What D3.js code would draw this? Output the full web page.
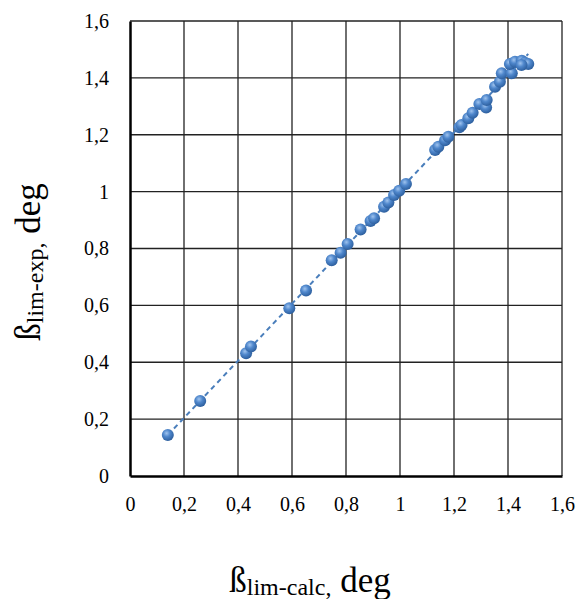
<!DOCTYPE html>
<html>
<head>
<meta charset="utf-8">
<script src="https://cdn.jsdelivr.net/npm/d3@7.9.0/dist/d3.min.js"></script>
<style>
  body { margin: 0; background: #fff; }
  svg text { font-family: "Liberation Serif", "Times New Roman", serif; fill: #000; }
</style>
</head>
<body>
<svg id="chart" width="579" height="599"></svg>
<script>
const calcVals = [0.14, 0.26, 0.43, 0.448, 0.59, 0.652, 0.747, 0.78, 0.806, 0.854, 0.891, 0.904,
  0.941, 0.957, 0.978, 0.997, 1.022, 1.13, 1.142, 1.167, 1.179, 1.22, 1.228, 1.253, 1.269,
  1.294, 1.319, 1.321, 1.352, 1.37, 1.377, 1.414, 1.407, 1.426, 1.451, 1.463, 1.475, 1.45];
const expVals = [0.144, 0.264, 0.432, 0.455, 0.59, 0.652, 0.759, 0.785, 0.816, 0.867, 0.897, 0.906,
  0.947, 0.962, 0.988, 1.003, 1.027, 1.146, 1.158, 1.181, 1.193, 1.226, 1.234, 1.258, 1.277,
  1.308, 1.296, 1.322, 1.369, 1.386, 1.416, 1.416, 1.449, 1.457, 1.46, 1.453, 1.449, 1.445];
const tickVals = [0, 0.2, 0.4, 0.6, 0.8, 1, 1.2, 1.4, 1.6];

const svg = d3.select('#chart');
const pLeft = 130, pRight = 562, pTop = 21, pBottom = 476;

const x = d3.scaleLinear().domain([0, 1.6]).range([pLeft, pRight]);
const y = d3.scaleLinear().domain([0, 1.6]).range([pBottom, pTop]);
const fmt = d => String(d).replace('.', ',');

// gradient for the shiny markers
const defs = svg.append('defs');
const grad = defs.append('radialGradient').attr('id', 'ball')
  .attr('cx', '40%').attr('cy', '35%').attr('r', '65%');
grad.append('stop').attr('offset', '0%').attr('stop-color', '#9fc3ee');
grad.append('stop').attr('offset', '45%').attr('stop-color', '#4f87cc');
grad.append('stop').attr('offset', '100%').attr('stop-color', '#2d5f9e');

// grid
svg.append('g').selectAll('line').data(tickVals.slice(1)).join('line')
  .attr('x1', d => x(d)).attr('x2', d => x(d)).attr('y1', pTop).attr('y2', pBottom)
  .attr('stroke', '#222').attr('stroke-width', 1.3);
svg.append('g').selectAll('line').data(tickVals.slice(1)).join('line')
  .attr('y1', d => y(d)).attr('y2', d => y(d)).attr('x1', pLeft).attr('x2', pRight)
  .attr('stroke', '#222').attr('stroke-width', 1.3);

// axes
const xAxis = svg.append('g').attr('transform', `translate(0,${pBottom})`)
  .call(d3.axisBottom(x).tickValues(tickVals).tickFormat(fmt).tickSize(0).tickPadding(21));
const yAxis = svg.append('g').attr('transform', `translate(${pLeft},0)`)
  .call(d3.axisLeft(y).tickValues(tickVals).tickFormat(fmt).tickSize(0).tickPadding(21));
[xAxis, yAxis].forEach(a => {
  a.attr('font-family', null).attr('font-size', null);
  a.select('.domain').attr('stroke', '#000').attr('stroke-width', 2.5);
  a.selectAll('text')
    .style('font-family', '"Liberation Serif", serif')
    .style('font-size', '20px');
});

// trend line (least squares)
const mx = d3.mean(calcVals), my = d3.mean(expVals);
let sxy = 0, sxx = 0;
calcVals.forEach((v, i) => { sxy += (v - mx) * (expVals[i] - my); sxx += (v - mx) ** 2; });
const slope = sxy / sxx, icpt = my - slope * mx;
const [x0, x1] = d3.extent(calcVals);
svg.append('line')
  .attr('x1', x(x0)).attr('y1', y(icpt + slope * x0))
  .attr('x2', x(x1)).attr('y2', y(icpt + slope * x1))
  .attr('stroke', '#4a7ebb').attr('stroke-width', 2).attr('stroke-dasharray', '5,4');

// markers
svg.append('g').selectAll('circle').data(calcVals).join('circle')
  .attr('cx', d => x(d)).attr('cy', (d, i) => y(expVals[i])).attr('r', 6)
  .attr('fill', 'url(#ball)');

// axis titles
const xt = svg.append('text').attr('x', 310).attr('y', 592).attr('text-anchor', 'middle')
  .style('font-size', '35px');
xt.append('tspan').text('ß');
xt.append('tspan').text('lim-calc,').style('font-size', '24px').attr('dy', 3);
xt.append('tspan').text(' deg').attr('dy', -3);

const yt = svg.append('text').attr('transform', 'translate(40,262) rotate(-90)')
  .attr('text-anchor', 'middle').style('font-size', '35px');
yt.append('tspan').text('ß');
yt.append('tspan').text('lim-exp,').style('font-size', '24px').attr('dy', 3);
yt.append('tspan').text(' deg').attr('dy', -3);
</script>
</body>
</html>
